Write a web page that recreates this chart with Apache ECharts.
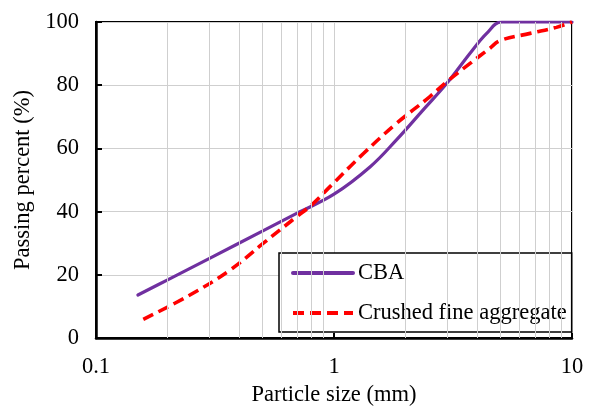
<!DOCTYPE html>
<html>
<head>
<meta charset="utf-8">
<script src="https://cdn.jsdelivr.net/npm/echarts@6/dist/echarts.min.js"></script>
<style>
  html, body { margin: 0; padding: 0; background: #fff; }
  #chart { width: 594px; height: 412px; }
</style>
</head>
<body>
<div id="chart"></div>
<script>
// particle sizes (mm) and passing percent
const cbaSizes = [0.15, 0.2, 0.3, 0.5, 0.7, 1, 1.42, 1.83, 2.37, 2.98, 3.73, 4.38, 5.07, 10];
const cbaPass = [13.6, 18.4, 25.2, 33.8, 39.5, 45.5, 54.2, 62.7, 72.2, 80.6, 90.1, 96.4, 100, 100];
const cfaSizes = [0.158, 0.248, 0.366, 0.505, 0.697, 0.805, 0.962, 1.33, 1.83, 2.53, 2.98, 3.73, 4.52, 4.98, 6.67, 8.6, 10];
const cfaPass = [5.9, 13.6, 21.5, 30, 38.4, 42.1, 47.9, 58.4, 67.9, 76.4, 81.1, 86.9, 91.7, 94.1, 96.4, 98.3, 100];
// log minor grid positions
const minorTicks = [0.2, 0.3, 0.4, 0.5, 0.6, 0.7, 0.8, 0.9, 2, 3, 4, 5, 6, 7, 8, 9];
const xLabels = { 0.1: "0.1", 1: "1", 10: "10" };

const FONT = "Liberation Serif, Times New Roman, serif";
const FS = 22.5;

let myChart = echarts.init(document.getElementById("chart"));

let option = {
  backgroundColor: "#fff",
  animation: false,
  textStyle: { fontFamily: FONT, color: "#000" },
  grid: {
    left: 96, right: 22, top: 22, bottom: 74,
    show: true, borderColor: "#000", borderWidth: 2,
  },
  legend: {
    data: ["CBA", "Crushed fine aggregate"],
    orient: "vertical",
    left: 279, top: 253,
    padding: [8, 5, 7, 12],
    itemWidth: 60,
    itemHeight: 14,
    itemGap: 16,
    backgroundColor: "#fff",
    borderColor: "#000",
    borderWidth: 1.5,
    itemStyle: { opacity: 0 },
    lineStyle: { width: 4 },
    textStyle: { fontFamily: FONT, fontSize: FS, lineHeight: 24, color: "#000" },
  },
  xAxis: {
    type: "log",
    logBase: 10,
    min: 0.1,
    max: 10,
    name: "Particle size (mm)",
    nameLocation: "middle",
    nameGap: 31,
    nameTextStyle: { fontFamily: FONT, fontSize: FS, color: "#000" },
    axisLine: { lineStyle: { color: "#000", width: 2.5 } },
    axisTick: { inside: true, length: 5, lineStyle: { color: "#000", width: 2 } },
    axisLabel: {
      fontFamily: FONT, fontSize: FS, color: "#000", margin: 18,
      formatter: (v) => xLabels[v] || String(v),
    },
    splitLine: { show: true, lineStyle: { color: "#cfcfcf", width: 1 } },
  },
  yAxis: {
    type: "value",
    min: 0,
    max: 100,
    interval: 20,
    name: "Passing percent (%)",
    nameLocation: "middle",
    nameGap: 55,
    nameTextStyle: { fontFamily: FONT, fontSize: FS, color: "#000" },
    axisLine: { show: true, lineStyle: { color: "#000", width: 2.5 } },
    axisTick: { show: true, inside: true, length: 6, lineStyle: { color: "#000", width: 2 } },
    axisLabel: { fontFamily: FONT, fontSize: FS, color: "#000", margin: 17 },
    splitLine: { show: true, lineStyle: { color: "#cfcfcf", width: 1 } },
  },
  series: [
    {
      name: "minor",
      type: "line",
      data: [],
      silent: true,
      z: 1,
      markLine: {
        silent: true,
        symbol: "none",
        label: { show: false },
        lineStyle: { color: "#cfcfcf", width: 1, type: "solid" },
        data: minorTicks.map((t) => ({ xAxis: t })),
      },
    },
    {
      name: "CBA",
      type: "line",
      smooth: 0.4,
      showSymbol: false,
      symbol: "none",
      z: 3,
      itemStyle: { color: "#7030A0" },
      lineStyle: { color: "#7030A0", width: 3.2, cap: "round" },
      data: cbaSizes.map((s, i) => [s, cbaPass[i]]),
    },
    {
      name: "Crushed fine aggregate",
      type: "line",
      smooth: 0.4,
      showSymbol: false,
      symbol: "none",
      z: 4,
      itemStyle: { color: "#FF0000" },
      lineStyle: { color: "#FF0000", width: 3.6, type: [11, 6] },
      data: cfaSizes.map((s, i) => [s, cfaPass[i]]),
    },
  ],
};

option && myChart.setOption(option);
</script>
</body>
</html>
